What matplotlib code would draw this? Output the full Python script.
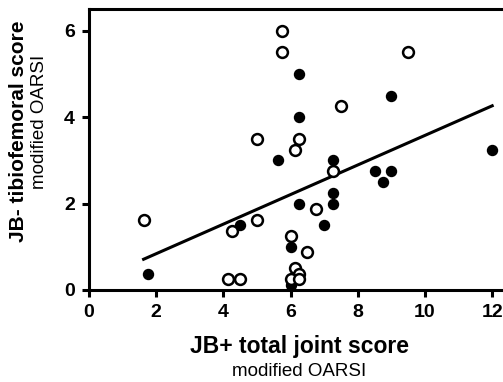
import numpy as np
import matplotlib
matplotlib.use("Agg")
from matplotlib import pyplot as plt

# open circles
open_x = [5.75, 5.75, 9.5, 7.5, 5.0, 6.25, 6.125, 7.25, 6.75, 6.0, 6.5, 6.125, 6.25, 6.0, 6.25,
          1.625, 4.25, 5.0, 4.125, 4.5]
open_y = [6.0, 5.5, 5.5, 4.25, 3.5, 3.5, 3.25, 2.75, 1.875, 1.25, 0.875, 0.5, 0.375, 0.25, 0.25,
          1.625, 1.375, 1.625, 0.25, 0.25]

# filled circles
filled_x = [6.25, 6.25, 9.0, 5.625, 7.25, 12.0, 8.5, 9.0, 8.75, 7.25, 7.25, 6.25, 7.0, 6.0,
            4.5, 1.75, 6.0]
filled_y = [5.0, 4.0, 4.5, 3.0, 3.0, 3.25, 2.75, 2.75, 2.5, 2.25, 2.0, 2.0, 1.5, 1.0,
            1.5, 0.375, 0.125]

xticks = [0, 2, 4, 6, 8, 10, 12]
yticks = [0, 2, 4, 6]

plt.rcParams['font.family'] = ['Liberation Sans', 'DejaVu Sans']

fig = plt.figure(figsize=(5.03, 3.82), dpi=100)
ax = fig.add_axes([89 / 503, 92 / 382, 420 / 503, 280.8 / 382])

# linear fit over all points
all_x = np.array(open_x + filled_x)
all_y = np.array(open_y + filled_y)
slope, intercept = np.polyfit(all_x, all_y, 1)
lx = np.array([all_x.min(), all_x.max()])
ax.plot(lx, slope * lx + intercept, color="black", lw=2.2, zorder=2)

ax.plot(filled_x, filled_y, "o", color="black", ms=7.2, zorder=3, clip_on=False)
ax.plot(open_x, open_y, "o", mfc="white", mec="black", mew=1.8, ms=7.8, zorder=4, clip_on=False)

ax.set_xlim(0, 12.5)
ax.set_ylim(0, 6.5)
ax.set_xticks(xticks)
ax.set_yticks(yticks)
for s in ax.spines.values():
    s.set_linewidth(2.2)
ax.tick_params(width=2.2, length=5, labelsize=14)
ax.tick_params(axis="x", pad=5)
ax.tick_params(axis="y", pad=5)
for lab in ax.get_xticklabels() + ax.get_yticklabels():
    lab.set_fontweight("bold")

fig.text(299 / 503, 1 - 347 / 382, "JB+ total joint score", ha="center", va="center",
         fontsize=16.5, fontweight="bold")
fig.text(299 / 503, 1 - 371 / 382, "modified OARSI", ha="center", va="center", fontsize=13.5)
fig.text(19 / 503, 1 - 131 / 382, "JB- tibiofemoral score", ha="center", va="center",
         rotation=90, fontsize=15, fontweight="bold")
fig.text(40 / 503, 1 - 122 / 382, "modified OARSI", ha="center", va="center",
         rotation=90, fontsize=13.5)

fig.savefig("out.png", dpi=100)
